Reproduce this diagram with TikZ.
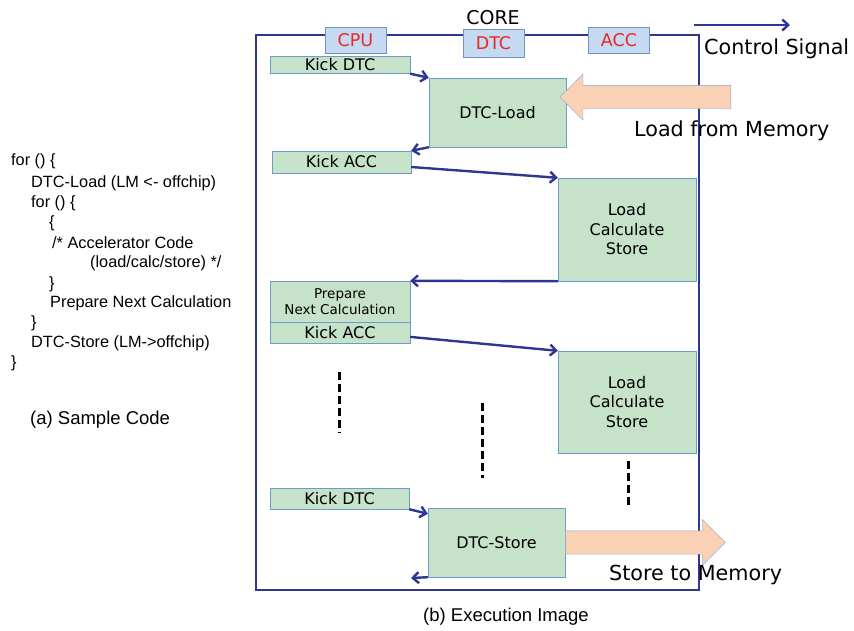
\documentclass[tikz,border=0pt]{standalone}
\usepackage{fontspec}
\setmainfont{Liberation Sans}
\newfontfamily\diagfont{DejaVu Sans}
\usepackage{tikz}
\usetikzlibrary{arrows.meta,positioning,shapes.arrows}
\definecolor{taskfill}{RGB}{198,226,201}
\definecolor{taskline}{RGB}{110,155,205}
\definecolor{unitfill}{RGB}{197,217,240}
\definecolor{unitline}{RGB}{115,145,195}
\definecolor{unitred}{RGB}{232,40,40}
\definecolor{framec}{RGB}{47,56,140}
\definecolor{sigc}{RGB}{45,55,145}
\definecolor{memfill}{RGB}{250,209,181}
\definecolor{memline}{RGB}{130,165,210}

\begin{document}
\begin{tikzpicture}[x=1pt, y=-1pt,
  unit/.style={draw=unitline, fill=unitfill, inner sep=0pt, text=unitred, minimum width=61pt, minimum height=26pt, font=\diagfont\fontsize{17.5}{20}\selectfont},
  task/.style={draw=taskline, fill=taskfill, inner sep=0pt, align=center, font=\diagfont\fontsize{16}{19.5}\selectfont},
  sig/.style={-{Straight Barb[length=6pt,width=11pt]}, line width=2.4pt, color=sigc},
  mem/.style={single arrow, draw=memline, fill=memfill, inner xsep=0pt, inner ysep=11.5pt, single arrow head extend=11.5pt},
  codeline/.style={anchor=west, inner sep=0pt, font=\fontsize{16.3}{19}\selectfont},
  caption/.style={inner sep=0pt, font=\fontsize{18.5}{21}\selectfont},
  wait/.style={dash pattern=on 8pt off 4pt, line width=3pt},
  lbl/.style={anchor=west, inner sep=0pt, font=\diagfont\fontsize{20.7}{24}\selectfont}]
  \useasboundingbox (0,0) rectangle (854,630);
  % (a) sample code
  \node[codeline] (c1) at (11,161) {for () \{};
  \node[codeline] (c2) at (31,183) {DTC-Load (LM <- offchip)};
  \node[codeline] (c3) at (31,203) {for () \{};
  \node[codeline] (c4) at (49,223) {\{};
  \node[codeline] (c5) at (52,243) {/* Accelerator Code};
  \node[codeline] (c6) at (90,263) {(load/calc/store) */};
  \node[codeline] (c7) at (49,284) {\}};
  \node[codeline] (c8) at (50,303) {Prepare Next Calculation};
  \node[codeline] (c9) at (31,323) {\}};
  \node[codeline] (c10) at (31,343) {DTC-Store (LM->offchip)};
  \node[codeline] (c11) at (11,363) {\}};
  \node[caption, anchor=west] (capa) at (30,420) {(a) Sample Code};
  % (b) core frame and units
  \node[draw=framec, line width=1.2pt, minimum width=443pt, minimum height=555pt, inner sep=0pt] (core) at (477.5,312.5) {};
  \node[inner sep=0pt, font=\diagfont\fontsize{19}{22}\selectfont] (corelbl) at (493,18) {CORE};
  \node[unit] (cpu) at (355.5,40) {CPU};
  \node[unit, minimum height=28pt] (dtc) at (493.5,43) {DTC};
  \node[unit] (acc) at (619,40) {ACC};
  % execution steps
  \node[task, minimum width=140pt, minimum height=17pt] (kd1) at (340,65) {Kick DTC};
  \node[task, minimum width=137pt, minimum height=69pt] (dl) at (497.5,112.5) {DTC-Load};
  \node[task, minimum width=139pt, minimum height=22pt] (ka1) at (341.5,162) {Kick ACC};
  \node[task, minimum width=138pt, minimum height=103pt] (lcs1) at (627,229.5) {Load\\Calculate\\Store};
  \node[task, minimum width=140pt, minimum height=41pt, font=\diagfont\fontsize{13.5}{16.5}\selectfont] (prep) at (340,301.5) {Prepare\\Next Calculation};
  \node[task, minimum width=140pt, minimum height=21pt, below=0pt of prep] (ka2) {Kick ACC};
  \node[task, minimum width=138pt, minimum height=102pt] (lcs2) at (627,402) {Load\\Calculate\\Store};
  \node[task, minimum width=139pt, minimum height=21pt] (kd2) at (339.5,498.5) {Kick DTC};
  \node[task, minimum width=137pt, minimum height=69pt] (ds) at (496.5,542.5) {DTC-Store};
  \coordinate (dsret) at (411,578);
  % memory transfers
  \coordinate (memin) at (731,97);
  \node[mem, shape border rotate=180, minimum height=171pt, anchor=tail] (ldarr) at (memin) {};
  \node[lbl] (ldlbl) at (634,131) {Load from Memory};
  \node[mem, minimum height=160pt, anchor=tail] (starr) at (ds.east) {};
  \node[lbl] (stlbl) at (609,575) {Store to Memory};
  % control signals
  \draw[sig] (kd1.south east) -- (dl.north west);
  \draw[sig] (dl.south west) -- (ka1.north east);
  \draw[sig] ([yshift=-5pt]ka1.east) -- (lcs1.north west);
  \draw[sig] (lcs1.south west) -- (prep.north east);
  \draw[sig] ([yshift=-4pt]ka2.east) -- (lcs2.north west);
  \draw[sig] (kd2.south east) -- ([yshift=-6pt]ds.north west);
  \draw[sig] (ds.south west) -- (dsret);
  % repetition marks
  \coordinate (w1a) at (339,372); \coordinate (w1b) at (339,433);
  \coordinate (w2a) at (482,403); \coordinate (w2b) at (482,478);
  \coordinate (w3a) at (628,461); \coordinate (w3b) at (628,507);
  \draw[wait] (w1a) -- (w1b);
  \draw[wait] (w2a) -- (w2b);
  \draw[wait] (w3a) -- (w3b);
  % legend
  \coordinate (sigA) at (694,25);
  \coordinate (sigB) at (790,25);
  \draw[sig] (sigA) -- (sigB);
  \node[lbl] (siglbl) at (704,49) {Control Signal};
  \node[caption] (capb) at (506,617) {(b) Execution Image};
\end{tikzpicture}
\end{document}
